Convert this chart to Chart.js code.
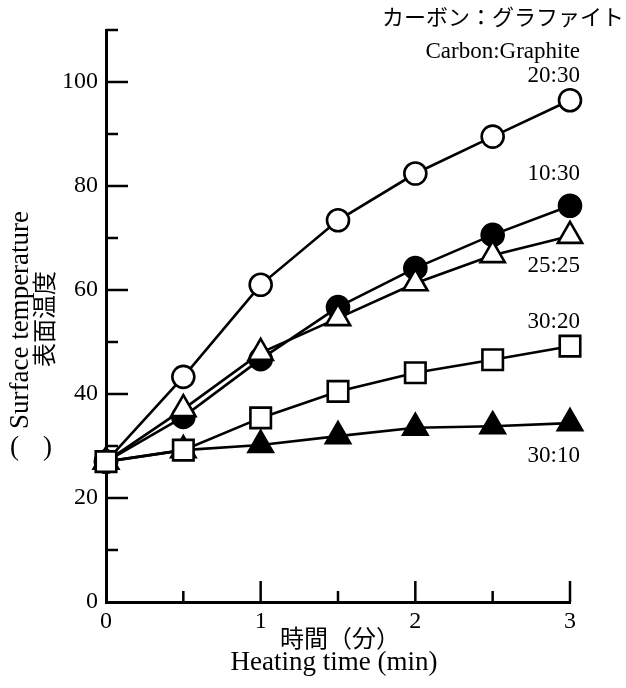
<!DOCTYPE html>
<html>
<head>
<meta charset="utf-8">
<script src="https://cdn.jsdelivr.net/npm/chart.js@4.4.1/dist/chart.umd.min.js"></script>
<style>
  html, body { margin: 0; padding: 0; background: #fff; }
  #wrap { width: 626px; height: 688px; }
</style>
</head>
<body>
<div id="wrap"><canvas id="chart" width="626" height="688"></canvas></div>
<script>
// heating time (min)
const times = [0, 0.5, 1, 1.5, 2, 2.5, 3];

// surface temperature, one list per carbon:graphite ratio
const ratio2030 = [27, 43.3, 61, 73.4, 82.4, 89.5, 96.5];
const ratio1030 = [27, 35.6, 46.7, 56.7, 64.2, 70.6, 76.2];
const ratio2525 = [27, 37.1, 47.9, 54.6, 61.3, 66.7, 70.4];
const ratio3020 = [27, 29.2, 35.4, 40.5, 44.1, 46.6, 49.2];
const ratio3010 = [27, 29.2, 30.2, 31.9, 33.5, 33.8, 34.4];

const xTicks = [0, 1, 2, 3];
const yTicks = [0, 20, 40, 60, 80, 100];

const SERIF = "'Liberation Serif', 'Times New Roman', serif";
const JP = "'Noto Sans CJK JP', 'Noto Sans', sans-serif";

function toPoints(values) {
    return values.map((v, i) => ({ x: times[i], y: v }));
}

function series(values, style, radius, fill) {
    return {
        data: toPoints(values),
        borderColor: '#000',
        borderWidth: 2.6,
        pointStyle: style,
        pointRadius: radius,
        pointHoverRadius: radius,
        pointBorderWidth: 2.6,
        pointBorderColor: '#000',
        pointBackgroundColor: fill,
        tension: 0,
        clip: false
    };
}

// inside tick marks plus all the free-standing labels
const decorations = {
    id: 'decorations',
    afterDraw(chart) {
        const { ctx, chartArea } = chart;
        const xs = chart.scales.x;
        const ys = chart.scales.y;

        ctx.save();
        ctx.strokeStyle = '#000';
        ctx.lineWidth = 2.5;
        ctx.beginPath();
        for (let v = 10; v <= 110; v += 10) {
            const py = ys.getPixelForValue(v);
            const len = v % 20 === 0 ? 22 : 12;
            ctx.moveTo(chartArea.left, py);
            ctx.lineTo(chartArea.left + len, py);
        }
        for (let t = 0.5; t <= 3; t += 0.5) {
            const px = xs.getPixelForValue(t);
            const len = t % 1 === 0 ? 21 : 11;
            ctx.moveTo(px, chartArea.bottom);
            ctx.lineTo(px, chartArea.bottom - len);
        }
        ctx.stroke();

        ctx.fillStyle = '#000';

        ctx.textAlign = 'right';
        ctx.textBaseline = 'middle';
        ctx.font = '22px ' + JP;
        ctx.fillText('カーボン：グラファイト', 624, 17);

        ctx.textBaseline = 'alphabetic';
        ctx.font = '23px ' + SERIF;
        ctx.fillText('Carbon:Graphite', 580, 58);
        ctx.fillText('20:30', 580, 82);
        ctx.fillText('10:30', 580, 180);
        ctx.fillText('25:25', 580, 272);
        ctx.fillText('30:20', 580, 328);
        ctx.fillText('30:10', 580, 462);

        // x axis title
        ctx.textAlign = 'center';
        ctx.textBaseline = 'middle';
        ctx.font = '24px ' + JP;
        ctx.fillText('時間（分）', 340, 638);
        ctx.textBaseline = 'alphabetic';
        ctx.font = '27px ' + SERIF;
        ctx.fillText('Heating time (min)', 334, 670);

        // y axis title
        ctx.font = '27px ' + SERIF;
        ctx.textAlign = 'left';
        ctx.fillText('(', 10, 455);
        ctx.textAlign = 'right';
        ctx.fillText(')', 52, 455);

        ctx.save();
        ctx.translate(28, 320);
        ctx.rotate(-Math.PI / 2);
        ctx.textAlign = 'center';
        ctx.textBaseline = 'alphabetic';
        ctx.fillText('Surface temperature', 0, 0);
        ctx.restore();

        ctx.save();
        ctx.translate(44, 319);
        ctx.rotate(-Math.PI / 2);
        ctx.textAlign = 'center';
        ctx.textBaseline = 'middle';
        ctx.font = '24px ' + JP;
        ctx.fillText('表面温度', 0, 0);
        ctx.restore();

        ctx.restore();
    }
};

new Chart(document.getElementById('chart'), {
    type: 'line',
    data: {
        // first dataset is painted last (on top)
        datasets: [
            series(ratio3020, 'rect', 14.5, '#fff'),
            series(ratio2525, 'triangle', 14, '#fff'),
            series(ratio1030, 'circle', 11, '#000'),
            series(ratio2030, 'circle', 11, '#fff'),
            series(ratio3010, 'triangle', 14, '#000')
        ]
    },
    options: {
        responsive: false,
        animation: false,
        events: [],
        layout: { padding: { top: 30, right: 56, left: 0, bottom: 0 } },
        plugins: {
            legend: { display: false },
            tooltip: { enabled: false }
        },
        scales: {
            x: {
                type: 'linear',
                min: 0,
                max: 3,
                afterFit: (s) => { s.height = 86; },
                afterBuildTicks: (s) => { s.ticks = xTicks.map(v => ({ value: v })); },
                grid: { display: false, drawTicks: false },
                border: { display: true, color: '#000', width: 3 },
                ticks: {
                    color: '#000',
                    padding: 5,
                    font: { family: SERIF, size: 24 }
                }
            },
            y: {
                type: 'linear',
                min: 0,
                max: 110,
                afterFit: (s) => { s.width = 106; },
                afterBuildTicks: (s) => { s.ticks = yTicks.map(v => ({ value: v })); },
                grid: { display: false, drawTicks: false },
                border: { display: true, color: '#000', width: 3 },
                ticks: {
                    color: '#000',
                    padding: 8,
                    font: { family: SERIF, size: 24 }
                }
            }
        }
    },
    plugins: [decorations]
});
</script>
</body>
</html>
